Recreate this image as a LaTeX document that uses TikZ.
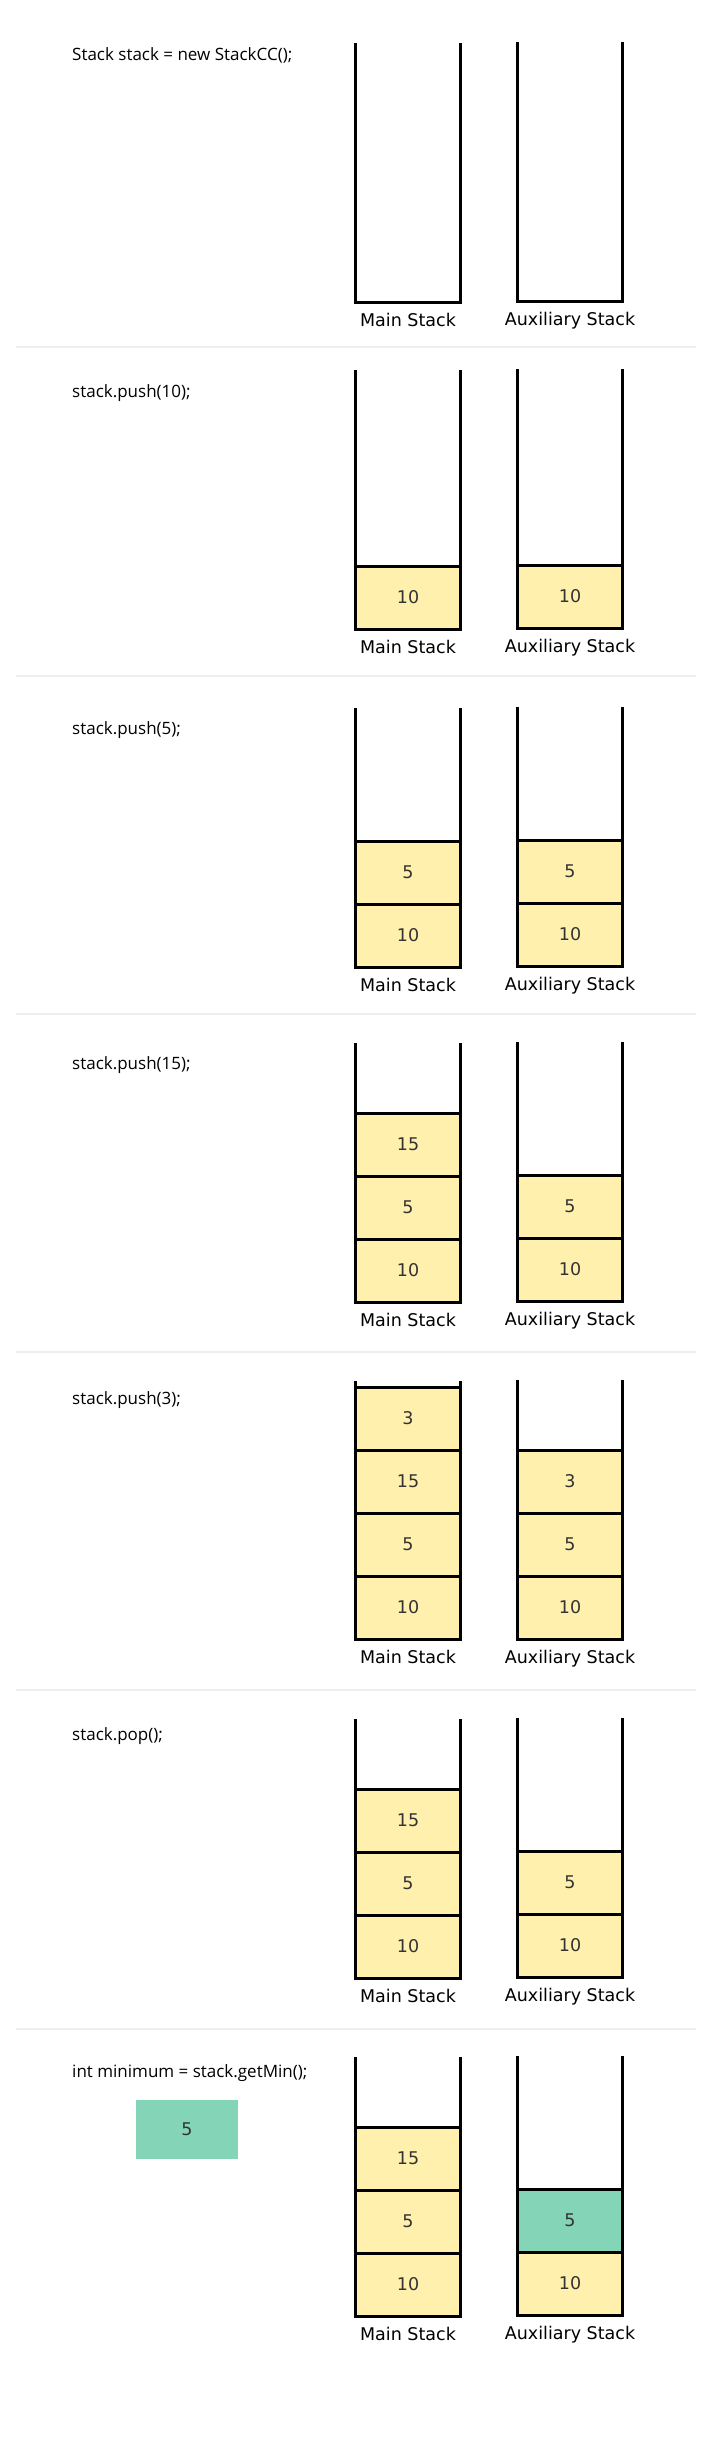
\documentclass[tikz,border=0pt]{standalone}
\usepackage{fontspec}
\setmainfont{DejaVu Sans}
\newfontfamily\codefont{Open Sans}
\definecolor{cellyellow}{HTML}{FFF0AD}
\definecolor{cellgreen}{HTML}{84D5B8}
\definecolor{numgray}{HTML}{333333}
\definecolor{sepgray}{HTML}{EEEEEE}
\newcommand\stackwalls[2]{% #1 x-left, #2 bottom
  \draw[wall] ({#1},{#2-259}) -- ({#1},{#2}) -- ({#1+105},{#2}) -- ({#1+105},{#2-259});}
\newcommand\stackcells[4]{% #1 name, #2 x-left, #3 bottom, #4 list value/colour
  \foreach \v/\c [count=\i] in {#4} {
    \node[cell, fill=\c] (#1-\i) at ({#2+52.5},{#3-31.5-63*(\i-1)}) {\v};
  }}
\newcommand\stacklabels[3]{% #1 name prefix, #2 main bottom, #3 aux bottom
  \node[stacklabel] (#1-mainlabel) at (408,{#2+24}) {Main Stack};
  \node[stacklabel] (#1-auxlabel) at (570,{#3+24}) {Auxiliary Stack};}
\begin{document}
\begin{tikzpicture}[x=1pt,y=-1pt,
  wall/.style={line width=3pt, line cap=butt, line join=miter, draw=black},
  cell/.style={draw=black, line width=3pt, minimum width=105pt, minimum height=63pt,
    inner sep=0pt, outer sep=0pt, text=numgray, font=\fontsize{17.5}{20}\selectfont},
  stacklabel/.style={anchor=base, text=black, inner sep=0pt, font=\fontsize{17.5}{20}\selectfont},
  code/.style={anchor=base west, inner sep=0pt, text=black, font=\codefont\fontsize{17}{20}\selectfont},
  sep/.style={draw=sepgray, line width=2pt},
  result/.style={fill=cellgreen, minimum width=102pt, minimum height=59pt, inner sep=0pt,
    text=numgray, font=\fontsize{17.5}{20}\selectfont}]
\useasboundingbox[fill=white] (0,0) rectangle (708,2460);
% separators
\foreach \y in {347,676,1014,1352,1690,2029} \draw[sep] (16,\y) -- (696,\y);
% panel 1
\node[code] (c1) at (72,60) {Stack stack = new StackCC();};
\stackwalls{355.5}{302}
\stackwalls{517.5}{301}
\stacklabels{p1}{302}{301}
% panel 2
\node[code] (c2) at (72,397) {stack.push(10);};
\stackcells{p2m}{355.5}{629}{10/cellyellow}
\stackcells{p2a}{517.5}{628}{10/cellyellow}
\stackwalls{355.5}{629}
\stackwalls{517.5}{628}
\stacklabels{p2}{629}{628}
% panel 3
\node[code] (c3) at (72,734) {stack.push(5);};
\stackcells{p3m}{355.5}{967}{10/cellyellow,5/cellyellow}
\stackcells{p3a}{517.5}{966}{10/cellyellow,5/cellyellow}
\stackwalls{355.5}{967}
\stackwalls{517.5}{966}
\stacklabels{p3}{967}{966}
% panel 4
\node[code] (c4) at (72,1069) {stack.push(15);};
\stackcells{p4m}{355.5}{1302}{10/cellyellow,5/cellyellow,15/cellyellow}
\stackcells{p4a}{517.5}{1301}{10/cellyellow,5/cellyellow}
\stackwalls{355.5}{1302}
\stackwalls{517.5}{1301}
\stacklabels{p4}{1302}{1301}
% panel 5
\node[code] (c5) at (72,1404) {stack.push(3);};
\stackcells{p5m}{355.5}{1639}{10/cellyellow,5/cellyellow,15/cellyellow,3/cellyellow}
\stackcells{p5a}{517.5}{1639}{10/cellyellow,5/cellyellow,3/cellyellow}
\draw[wall] (355.5,1381) -- (355.5,1639) -- (460.5,1639) -- (460.5,1381);
\draw[wall] (517.5,1380) -- (517.5,1639) -- (622.5,1639) -- (622.5,1380);
\stacklabels{p5}{1639}{1639}
% panel 6
\node[code] (c6) at (72,1740) {stack.pop();};
\stackcells{p6m}{355.5}{1978}{10/cellyellow,5/cellyellow,15/cellyellow}
\stackcells{p6a}{517.5}{1977}{10/cellyellow,5/cellyellow}
\stackwalls{355.5}{1978}
\stackwalls{517.5}{1977}
\stacklabels{p6}{1978}{1977}
% panel 7
\node[code] (c7) at (72,2077) {int minimum = stack.getMin();};
\node[result] (min) at (187,2129.5) {5};
\stackcells{p7m}{355.5}{2316}{10/cellyellow,5/cellyellow,15/cellyellow}
\stackcells{p7a}{517.5}{2315}{10/cellyellow,5/cellgreen}
\stackwalls{355.5}{2316}
\stackwalls{517.5}{2315}
\stacklabels{p7}{2316}{2315}
\end{tikzpicture}
\end{document}
